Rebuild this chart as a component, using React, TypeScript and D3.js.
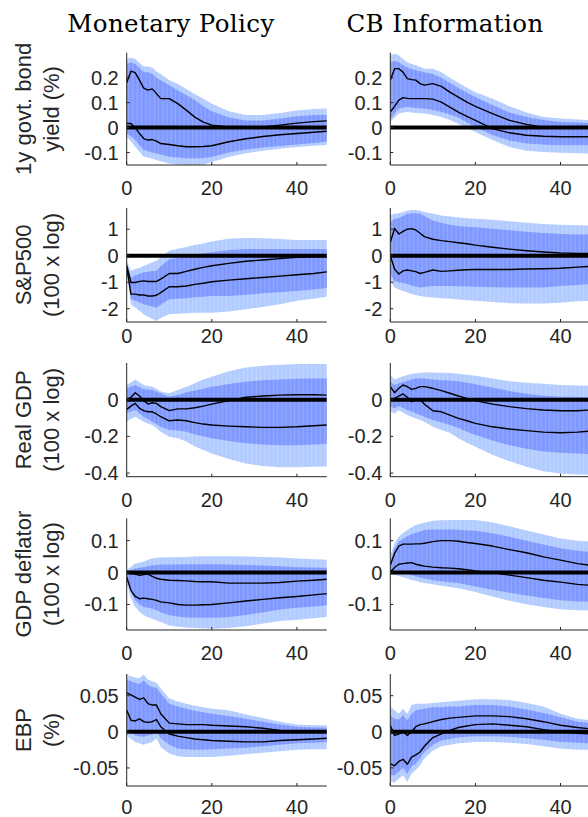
import React from 'react';
import * as d3 from 'd3';

// Horizons (months) at which the responses are read
const H = [0, 1, 2, 3, 4, 5, 6, 7, 8, 10, 12, 14, 16, 18, 20, 24, 28, 32, 36, 40, 44, 47];

const columnTitles = ['Monetary Policy', 'CB Information'];
const rowLabels = [
  ['1y govt. bond', 'yield (%)'],
  ['S&P500', '(100 x log)'],
  ['Real GDP', '(100 x log)'],
  ['GDP deflator', '(100 x log)'],
  ['EBP', '(%)'],
];
const yDomains: [number, number][] = [[-0.15, 0.3], [-2.5, 1.8], [-0.42, 0.2], [-0.18, 0.17], [-0.075, 0.08]];
const yTicks = [[-0.1, 0, 0.1, 0.2], [-2, -1, 0, 1], [-0.4, -0.2, 0], [-0.1, 0, 0.1], [-0.05, 0, 0.05]];
const xTicks = [0, 20, 40];

// ---- 1y govt bond yield, Monetary Policy
const yieldMpOuterU = [0.275, 0.28, 0.275, 0.26, 0.245, 0.245, 0.24, 0.225, 0.215, 0.19, 0.175, 0.155, 0.135, 0.115, 0.095, 0.065, 0.05, 0.05, 0.058, 0.068, 0.074, 0.076];
const yieldMpInnerU = [0.255, 0.262, 0.255, 0.24, 0.222, 0.222, 0.215, 0.2, 0.19, 0.17, 0.15, 0.13, 0.11, 0.085, 0.065, 0.04, 0.028, 0.028, 0.036, 0.045, 0.05, 0.05];
const yieldMpLine1 = [0.18, 0.226, 0.22, 0.19, 0.158, 0.15, 0.155, 0.136, 0.116, 0.116, 0.096, 0.07, 0.042, 0.022, 0.01, 0.002, 0.0, 0.002, 0.01, 0.018, 0.024, 0.027];
const yieldMpLine2 = [0.016, 0.016, 0.0, -0.024, -0.044, -0.05, -0.048, -0.054, -0.064, -0.068, -0.073, -0.077, -0.077, -0.076, -0.073, -0.057, -0.045, -0.036, -0.029, -0.024, -0.019, -0.015];
const yieldMpInnerL = [-0.024, -0.035, -0.05, -0.07, -0.09, -0.095, -0.1, -0.104, -0.108, -0.117, -0.12, -0.123, -0.124, -0.122, -0.118, -0.1, -0.088, -0.08, -0.074, -0.068, -0.062, -0.057];
const yieldMpOuterL = [-0.037, -0.055, -0.077, -0.097, -0.117, -0.12, -0.125, -0.13, -0.135, -0.144, -0.148, -0.15, -0.152, -0.148, -0.138, -0.118, -0.103, -0.093, -0.085, -0.078, -0.073, -0.07];

// ---- 1y govt bond yield, CB Information
const yieldCbOuterU = [0.29, 0.296, 0.29, 0.275, 0.262, 0.255, 0.25, 0.243, 0.236, 0.236, 0.222, 0.2, 0.18, 0.16, 0.142, 0.115, 0.085, 0.06, 0.042, 0.036, 0.032, 0.03];
const yieldCbInnerU = [0.262, 0.268, 0.262, 0.25, 0.242, 0.235, 0.23, 0.226, 0.222, 0.215, 0.2, 0.18, 0.16, 0.14, 0.122, 0.09, 0.06, 0.042, 0.03, 0.022, 0.02, 0.018];
const yieldCbLine1 = [0.19, 0.236, 0.236, 0.222, 0.196, 0.192, 0.19, 0.176, 0.17, 0.176, 0.165, 0.142, 0.122, 0.102, 0.085, 0.056, 0.029, 0.013, 0.002, 0.0, -0.001, -0.001];
const yieldCbLine2 = [0.062, 0.085, 0.11, 0.12, 0.117, 0.116, 0.116, 0.116, 0.116, 0.114, 0.102, 0.082, 0.062, 0.045, 0.029, -0.004, -0.021, -0.031, -0.035, -0.037, -0.037, -0.037];
const yieldCbInnerL = [0.032, 0.056, 0.076, 0.08, 0.082, 0.08, 0.078, 0.077, 0.076, 0.07, 0.062, 0.052, 0.04, 0.02, 0.002, -0.03, -0.052, -0.064, -0.068, -0.071, -0.071, -0.071];
const yieldCbOuterL = [0.022, 0.04, 0.056, 0.06, 0.062, 0.06, 0.058, 0.057, 0.056, 0.05, 0.042, 0.03, 0.015, -0.002, -0.018, -0.05, -0.078, -0.093, -0.098, -0.101, -0.103, -0.104];

// ---- S&P500, Monetary Policy
const spMpOuterU = [-0.19, -0.57, -0.5, -0.45, -0.38, -0.32, -0.25, -0.19, -0.05, 0.19, 0.26, 0.33, 0.4, 0.46, 0.54, 0.64, 0.67, 0.66, 0.63, 0.59, 0.59, 0.59];
const spMpInnerU = [-0.25, -0.82, -0.75, -0.68, -0.63, -0.6, -0.58, -0.57, -0.4, -0.13, -0.08, -0.03, 0.02, 0.08, 0.13, 0.22, 0.25, 0.25, 0.25, 0.25, 0.25, 0.25];
const spMpLine1 = [-0.38, -1.01, -1.01, -0.97, -0.95, -0.97, -0.97, -0.97, -0.88, -0.67, -0.67, -0.59, -0.51, -0.44, -0.38, -0.29, -0.21, -0.16, -0.11, -0.06, -0.04, -0.03];
const spMpLine2 = [-0.44, -1.45, -1.45, -1.48, -1.48, -1.52, -1.52, -1.49, -1.39, -1.17, -1.17, -1.14, -1.08, -1.04, -0.98, -0.92, -0.87, -0.82, -0.77, -0.72, -0.67, -0.61];
const spMpInnerL = [-0.5, -1.64, -1.7, -1.76, -1.83, -1.88, -1.92, -1.96, -1.85, -1.64, -1.62, -1.6, -1.57, -1.55, -1.52, -1.52, -1.47, -1.42, -1.38, -1.33, -1.27, -1.22];
const spMpOuterL = [-0.57, -1.83, -1.95, -2.08, -2.21, -2.3, -2.38, -2.46, -2.35, -2.21, -2.19, -2.17, -2.15, -2.15, -2.15, -2.1, -2.02, -1.93, -1.83, -1.7, -1.62, -1.55];

// ---- S&P500, CB Information
const spCbOuterU = [1.52, 1.58, 1.6, 1.65, 1.7, 1.72, 1.72, 1.7, 1.65, 1.58, 1.52, 1.48, 1.44, 1.41, 1.39, 1.36, 1.3, 1.24, 1.2, 1.17, 1.15, 1.14];
const spCbInnerU = [1.26, 1.39, 1.42, 1.5, 1.58, 1.6, 1.6, 1.58, 1.5, 1.33, 1.24, 1.17, 1.12, 1.09, 1.07, 1.02, 0.96, 0.9, 0.86, 0.82, 0.8, 0.8];
const spCbLine1 = [0.5, 1.03, 0.82, 0.92, 1.0, 1.02, 0.97, 0.85, 0.72, 0.62, 0.57, 0.53, 0.49, 0.45, 0.4, 0.32, 0.25, 0.19, 0.14, 0.1, 0.09, 0.08];
const spCbLine2 = [0, -0.5, -0.69, -0.57, -0.54, -0.57, -0.6, -0.67, -0.63, -0.54, -0.59, -0.57, -0.55, -0.53, -0.52, -0.52, -0.52, -0.5, -0.49, -0.47, -0.43, -0.4];
const spCbInnerL = [-0.69, -0.95, -1.0, -1.03, -1.07, -1.12, -1.16, -1.2, -1.18, -1.14, -1.14, -1.14, -1.15, -1.16, -1.17, -1.19, -1.2, -1.2, -1.2, -1.14, -1.1, -1.07];
const spCbOuterL = [-0.95, -1.2, -1.27, -1.33, -1.39, -1.44, -1.48, -1.52, -1.55, -1.58, -1.6, -1.62, -1.65, -1.68, -1.7, -1.75, -1.79, -1.8, -1.8, -1.77, -1.72, -1.7];

// ---- Real GDP, Monetary Policy
const gdpMpOuterU = [0.08, 0.095, 0.11, 0.095, 0.08, 0.075, 0.07, 0.06, 0.045, 0.035, 0.053, 0.07, 0.09, 0.11, 0.125, 0.155, 0.175, 0.185, 0.19, 0.195, 0.195, 0.195];
const gdpMpInnerU = [0.062, 0.072, 0.08, 0.068, 0.057, 0.055, 0.053, 0.045, 0.035, 0.016, 0.026, 0.04, 0.05, 0.06, 0.071, 0.085, 0.098, 0.106, 0.11, 0.114, 0.115, 0.116];
const gdpMpLine1 = [0, 0.013, 0.038, 0.02, -0.005, -0.024, -0.017, -0.02, -0.038, -0.06, -0.05, -0.05, -0.044, -0.035, -0.024, -0.005, 0.013, 0.02, 0.025, 0.027, 0.027, 0.025];
const gdpMpLine2 = [-0.053, -0.035, -0.02, -0.047, -0.06, -0.066, -0.066, -0.078, -0.093, -0.115, -0.111, -0.115, -0.125, -0.133, -0.138, -0.144, -0.148, -0.151, -0.151, -0.148, -0.142, -0.138];
const gdpMpInnerL = [-0.074, -0.065, -0.056, -0.075, -0.093, -0.105, -0.12, -0.134, -0.148, -0.166, -0.168, -0.175, -0.19, -0.2, -0.211, -0.226, -0.238, -0.245, -0.248, -0.248, -0.245, -0.242];
const gdpMpOuterL = [-0.12, -0.105, -0.093, -0.107, -0.12, -0.13, -0.138, -0.155, -0.175, -0.202, -0.21, -0.228, -0.255, -0.275, -0.293, -0.323, -0.348, -0.362, -0.369, -0.369, -0.366, -0.364];

// ---- Real GDP, CB Information
const gdpCbOuterU = [0.135, 0.11, 0.12, 0.128, 0.135, 0.14, 0.144, 0.146, 0.148, 0.148, 0.147, 0.145, 0.142, 0.136, 0.13, 0.115, 0.1, 0.092, 0.087, 0.08, 0.077, 0.075];
const gdpCbInnerU = [0.098, 0.08, 0.09, 0.096, 0.102, 0.11, 0.116, 0.116, 0.116, 0.11, 0.106, 0.104, 0.1, 0.092, 0.084, 0.066, 0.048, 0.032, 0.022, 0.016, 0.014, 0.013];
const gdpCbLine1 = [0.071, 0.038, 0.062, 0.08, 0.071, 0.056, 0.062, 0.071, 0.071, 0.062, 0.049, 0.035, 0.02, 0.007, -0.005, -0.024, -0.038, -0.049, -0.056, -0.06, -0.06, -0.056];
const gdpCbLine2 = [0, 0.007, 0.02, 0.031, 0.013, -0.011, 0, 0, -0.024, -0.06, -0.066, -0.084, -0.102, -0.115, -0.129, -0.148, -0.16, -0.169, -0.177, -0.18, -0.177, -0.171];
const gdpCbInnerL = [-0.038, -0.047, -0.035, -0.045, -0.056, -0.065, -0.074, -0.084, -0.093, -0.111, -0.125, -0.138, -0.155, -0.175, -0.193, -0.222, -0.248, -0.268, -0.282, -0.289, -0.294, -0.296];
const gdpCbOuterL = [-0.066, -0.075, -0.057, -0.07, -0.084, -0.093, -0.102, -0.111, -0.12, -0.148, -0.165, -0.18, -0.21, -0.235, -0.257, -0.3, -0.336, -0.366, -0.39, -0.402, -0.408, -0.41];

// ---- GDP deflator, Monetary Policy
const defMpOuterU = [0.007, 0.018, 0.028, 0.031, 0.034, 0.04, 0.044, 0.046, 0.047, 0.048, 0.048, 0.049, 0.05, 0.051, 0.051, 0.051, 0.05, 0.049, 0.047, 0.044, 0.042, 0.04];
const defMpInnerU = [0.004, 0.009, 0.013, 0.015, 0.017, 0.02, 0.023, 0.024, 0.025, 0.025, 0.025, 0.026, 0.026, 0.026, 0.026, 0.025, 0.024, 0.022, 0.02, 0.017, 0.016, 0.015];
const defMpLine1 = [0, -0.003, -0.005, -0.009, -0.006, -0.005, -0.012, -0.018, -0.021, -0.024, -0.025, -0.026, -0.028, -0.029, -0.029, -0.033, -0.033, -0.033, -0.031, -0.027, -0.024, -0.021];
const defMpLine2 = [-0.014, -0.056, -0.075, -0.082, -0.08, -0.082, -0.084, -0.087, -0.092, -0.095, -0.1, -0.102, -0.102, -0.101, -0.1, -0.095, -0.089, -0.084, -0.079, -0.075, -0.07, -0.066];
const defMpInnerL = [-0.024, -0.06, -0.087, -0.1, -0.108, -0.11, -0.113, -0.118, -0.124, -0.134, -0.138, -0.141, -0.142, -0.142, -0.142, -0.139, -0.133, -0.125, -0.116, -0.11, -0.106, -0.103];
const defMpOuterL = [-0.035, -0.08, -0.108, -0.123, -0.134, -0.14, -0.145, -0.15, -0.155, -0.166, -0.17, -0.172, -0.174, -0.175, -0.176, -0.174, -0.168, -0.16, -0.152, -0.148, -0.143, -0.139];

// ---- GDP deflator, CB Information
const defCbOuterU = [0.054, 0.091, 0.112, 0.124, 0.133, 0.142, 0.149, 0.153, 0.156, 0.162, 0.164, 0.165, 0.165, 0.165, 0.165, 0.157, 0.145, 0.132, 0.119, 0.107, 0.1, 0.097];
const defCbInnerU = [0.034, 0.076, 0.097, 0.107, 0.114, 0.12, 0.125, 0.129, 0.133, 0.135, 0.135, 0.135, 0.134, 0.132, 0.131, 0.123, 0.112, 0.1, 0.088, 0.076, 0.068, 0.065];
const defCbLine1 = [0.023, 0.06, 0.083, 0.089, 0.089, 0.089, 0.09, 0.09, 0.092, 0.097, 0.1, 0.1, 0.098, 0.094, 0.091, 0.083, 0.072, 0.062, 0.049, 0.039, 0.028, 0.023];
const defCbLine2 = [0.002, 0.016, 0.026, 0.028, 0.03, 0.031, 0.026, 0.023, 0.02, 0.017, 0.015, 0.014, 0.012, 0.009, 0.005, -0.001, -0.008, -0.016, -0.024, -0.03, -0.037, -0.04];
const defCbInnerL = [-0.003, -0.001, 0.002, 0.0, -0.003, -0.008, -0.012, -0.016, -0.019, -0.024, -0.027, -0.03, -0.033, -0.038, -0.044, -0.054, -0.063, -0.072, -0.08, -0.087, -0.091, -0.092];
const defCbOuterL = [-0.005, -0.008, -0.011, -0.015, -0.019, -0.023, -0.026, -0.03, -0.033, -0.037, -0.041, -0.045, -0.049, -0.055, -0.061, -0.075, -0.088, -0.099, -0.108, -0.115, -0.118, -0.119];

// ---- EBP, Monetary Policy
const ebpMpOuterU = [0.079, 0.077, 0.075, 0.074, 0.079, 0.072, 0.07, 0.068, 0.06, 0.046, 0.042, 0.039, 0.036, 0.034, 0.032, 0.03, 0.024, 0.019, 0.014, 0.01, 0.009, 0.009];
const ebpMpInnerU = [0.072, 0.07, 0.068, 0.066, 0.071, 0.065, 0.062, 0.061, 0.053, 0.039, 0.035, 0.032, 0.029, 0.027, 0.025, 0.022, 0.018, 0.014, 0.01, 0.007, 0.006, 0.006];
const ebpMpLine1 = [0.054, 0.051, 0.048, 0.045, 0.047, 0.039, 0.037, 0.037, 0.025, 0.012, 0.011, 0.01, 0.01, 0.01, 0.009, 0.008, 0.007, 0.005, 0.002, 0.001, 0.001, 0.0];
const ebpMpLine2 = [0.03, 0.016, 0.015, 0.018, 0.014, 0.013, 0.014, 0.017, 0.007, -0.003, -0.006, -0.008, -0.01, -0.011, -0.012, -0.013, -0.014, -0.014, -0.012, -0.011, -0.01, -0.009];
const ebpMpInnerL = [0.005, 0.0, -0.005, -0.006, -0.007, -0.005, -0.004, 0.0, -0.009, -0.018, -0.023, -0.024, -0.025, -0.025, -0.024, -0.023, -0.022, -0.02, -0.018, -0.016, -0.015, -0.014];
const ebpMpOuterL = [-0.005, -0.01, -0.014, -0.016, -0.018, -0.016, -0.014, -0.009, -0.021, -0.03, -0.034, -0.035, -0.035, -0.035, -0.035, -0.033, -0.031, -0.029, -0.027, -0.025, -0.024, -0.024];

// ---- EBP, CB Information
const ebpCbOuterU = [0.035, 0.03, 0.025, 0.032, 0.025, 0.037, 0.039, 0.039, 0.039, 0.04, 0.041, 0.042, 0.043, 0.044, 0.045, 0.045, 0.044, 0.04, 0.035, 0.025, 0.018, 0.016];
const ebpCbInnerU = [0.023, 0.018, 0.017, 0.023, 0.016, 0.025, 0.03, 0.031, 0.032, 0.034, 0.034, 0.035, 0.035, 0.036, 0.037, 0.037, 0.035, 0.031, 0.026, 0.02, 0.014, 0.012];
const ebpCbLine1 = [0.009, -0.005, -0.003, 0, -0.005, 0, 0.007, 0.01, 0.011, 0.014, 0.017, 0.019, 0.02, 0.021, 0.022, 0.022, 0.021, 0.018, 0.014, 0.009, 0.006, 0.004];
const ebpCbLine2 = [-0.044, -0.047, -0.041, -0.038, -0.045, -0.035, -0.032, -0.028, -0.02, -0.008, -0.003, 0.002, 0.006, 0.008, 0.01, 0.011, 0.009, 0.007, 0.003, 0, -0.002, -0.003];
const ebpCbInnerL = [-0.06, -0.06, -0.055, -0.05, -0.058, -0.048, -0.044, -0.037, -0.028, -0.018, -0.012, -0.01, -0.008, -0.007, -0.006, -0.006, -0.007, -0.009, -0.011, -0.014, -0.015, -0.016];
const ebpCbOuterL = [-0.069, -0.07, -0.065, -0.06, -0.069, -0.058, -0.053, -0.046, -0.037, -0.026, -0.02, -0.018, -0.016, -0.015, -0.014, -0.014, -0.015, -0.017, -0.02, -0.023, -0.025, -0.025];

type Panel = { oU: number[]; iU: number[]; l1: number[]; l2: number[]; iL: number[]; oL: number[] };
const mk = (oU: number[], iU: number[], l1: number[], l2: number[], iL: number[], oL: number[]): Panel => ({ oU, iU, l1, l2, iL, oL });

const panels: Panel[][] = [
  [mk(yieldMpOuterU, yieldMpInnerU, yieldMpLine1, yieldMpLine2, yieldMpInnerL, yieldMpOuterL), mk(yieldCbOuterU, yieldCbInnerU, yieldCbLine1, yieldCbLine2, yieldCbInnerL, yieldCbOuterL)],
  [mk(spMpOuterU, spMpInnerU, spMpLine1, spMpLine2, spMpInnerL, spMpOuterL), mk(spCbOuterU, spCbInnerU, spCbLine1, spCbLine2, spCbInnerL, spCbOuterL)],
  [mk(gdpMpOuterU, gdpMpInnerU, gdpMpLine1, gdpMpLine2, gdpMpInnerL, gdpMpOuterL), mk(gdpCbOuterU, gdpCbInnerU, gdpCbLine1, gdpCbLine2, gdpCbInnerL, gdpCbOuterL)],
  [mk(defMpOuterU, defMpInnerU, defMpLine1, defMpLine2, defMpInnerL, defMpOuterL), mk(defCbOuterU, defCbInnerU, defCbLine1, defCbLine2, defCbInnerL, defCbOuterL)],
  [mk(ebpMpOuterU, ebpMpInnerU, ebpMpLine1, ebpMpLine2, ebpMpInnerL, ebpMpOuterL), mk(ebpCbOuterU, ebpCbInnerU, ebpCbLine1, ebpCbLine2, ebpCbInnerL, ebpCbOuterL)],
];

// layout
const W = 588, HGT = 817;
const colLeft = [126.7, 390.3];
const plotW = 200;
const rowTop = [52.7, 208, 363, 518.3, 674];
const rowBottom = [165, 322, 476.7, 630, 786];
const xLabelOffset = [30, 21, 30, 30, 27.5];
const titleX = [171, 445];
const titleY = 32;
const labelX1 = 30.5, labelX2 = 59;

const LIGHT = 'rgb(179,204,255)';
const DARK = 'rgb(128,153,255)';
const AXIS = '#262626';
const SANS = '"Liberation Sans", Arial, Helvetica, sans-serif';
const SERIF = '"DejaVu Serif", "Liberation Serif", serif';

function PanelView({ r, c }: { r: number; c: number }) {
  const p = panels[r][c];
  const x0 = colLeft[c];
  const x = d3.scaleLinear().domain([0, 47]).range([x0, x0 + plotW]);
  const y = d3.scaleLinear().domain(yDomains[r]).range([rowBottom[r], rowTop[r]]);
  const area = (lo: number[], hi: number[]) =>
    d3.area<number>().x((_, i) => x(H[i])).y0((_, i) => y(lo[i])).y1((_, i) => y(hi[i]))(H) || '';
  const line = (v: number[]) => d3.line<number>().x((_, i) => x(H[i])).y((_, i) => y(v[i]))(H) || '';
  const clipId = `clip-${r}-${c}`;
  const bandClip = `band-${r}-${c}`;
  const yb = rowBottom[r];
  const outer = area(p.oL, p.oU);
  return (
    <g>
      <defs>
        <clipPath id={clipId}>
          <rect x={x0} y={rowTop[r]} width={plotW + 2} height={rowBottom[r] - rowTop[r]} />
        </clipPath>
        <clipPath id={bandClip}>
          <path d={outer} />
        </clipPath>
      </defs>
      <g clipPath={`url(#${clipId})`}>
        <path d={outer} fill={LIGHT} />
        <path d={area(p.iL, p.iU)} fill={DARK} />
        <g clipPath={`url(#${bandClip})`}>
          {d3.range(0, 48).map((h) => (
            <line key={h} x1={x(h) + 2} x2={x(h) + 2} y1={rowTop[r]} y2={yb} stroke="#fff" strokeOpacity={0.18} strokeWidth={1} />
          ))}
        </g>
        <line x1={x(0)} x2={x(47)} y1={y(0)} y2={y(0)} stroke="#000" strokeWidth={4} />
        <path d={line(p.l1)} fill="none" stroke="#000" strokeWidth={1.4} strokeLinejoin="round" />
        <path d={line(p.l2)} fill="none" stroke="#000" strokeWidth={1.4} strokeLinejoin="round" />
      </g>
      <line x1={x0} x2={x0} y1={rowTop[r]} y2={yb} stroke={AXIS} strokeWidth={1} />
      <line x1={x0} x2={x0 + plotW} y1={yb} y2={yb} stroke={AXIS} strokeWidth={1} />
      {yTicks[r].map((t) => (
        <g key={`yt${t}`}>
          <line x1={x0} x2={x0 + 3} y1={y(t)} y2={y(t)} stroke={AXIS} strokeWidth={1} />
          <text x={x0 - 8} y={y(t)} dy="0.35em" textAnchor="end" fontFamily={SANS} fontSize={20} fill={AXIS}>
            {String(t)}
          </text>
        </g>
      ))}
      {xTicks.map((t) => (
        <g key={`xt${t}`}>
          <line x1={x(t)} x2={x(t)} y1={yb} y2={yb - 3} stroke={AXIS} strokeWidth={1} />
          <text x={x(t)} y={yb + xLabelOffset[r]} textAnchor="middle" fontFamily={SANS} fontSize={20} fill={AXIS}>
            {String(t)}
          </text>
        </g>
      ))}
    </g>
  );
}

export default function App() {
  return (
    <svg width={W} height={HGT} style={{ position: 'absolute', left: 0, top: 0, background: '#fff' }}>
      <rect width={W} height={HGT} fill="#fff" />
      {columnTitles.map((t, c) => (
        <text key={t} x={titleX[c]} y={titleY} textAnchor="middle" fontFamily={SERIF} fontSize={24.5} letterSpacing={0.4} fill="#000">
          {t}
        </text>
      ))}
      {rowLabels.map((lab, r) => {
        const cy = (rowTop[r] + rowBottom[r]) / 2;
        return (
          <g key={lab[0]}>
            <text transform={`translate(${labelX1},${cy}) rotate(-90)`} textAnchor="middle" fontFamily={SANS} fontSize={22} fill={AXIS}>
              {lab[0]}
            </text>
            <text transform={`translate(${labelX2},${cy}) rotate(-90)`} textAnchor="middle" fontFamily={SANS} fontSize={22} fill={AXIS}>
              {lab[1]}
            </text>
          </g>
        );
      })}
      {panels.map((row, r) => row.map((_, c) => <PanelView key={`${r}-${c}`} r={r} c={c} />))}
    </svg>
  );
}
